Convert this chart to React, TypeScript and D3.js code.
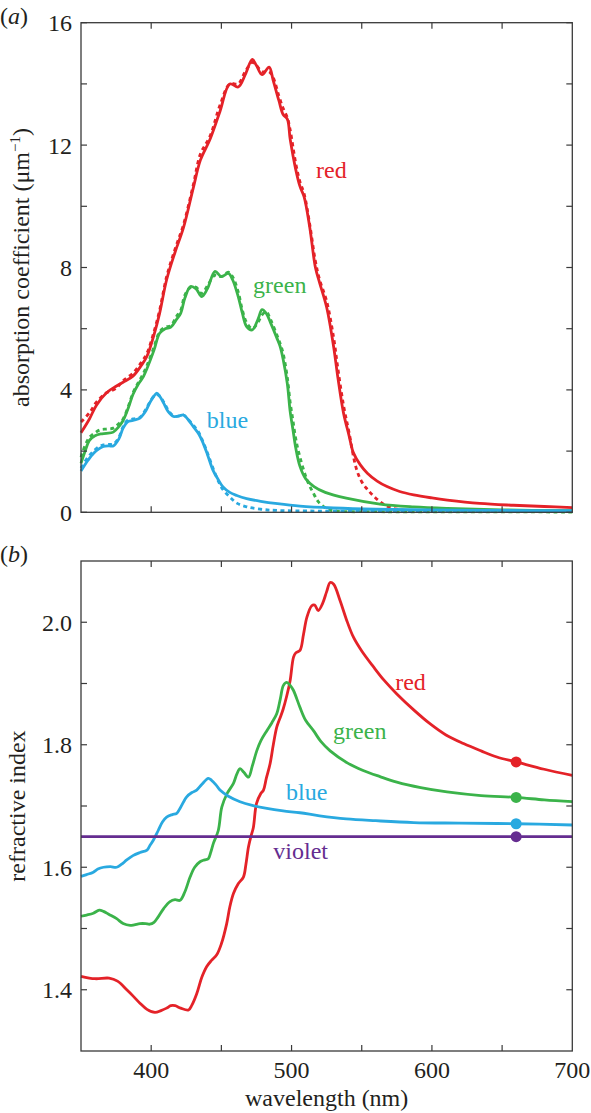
import React from 'react';
import * as d3 from 'd3';

type P = [number, number];

// ---------- axes ----------
const wavelengthDomain: [number, number] = [350, 700];
const xTicks = [400, 450, 500, 550, 600, 650];
const xTickLabels = [400, 500, 600, 700];
const absDomain: [number, number] = [0, 16];
const absTicks = [0, 2, 4, 6, 8, 10, 12, 14, 16];
const absTickLabels = [0, 4, 8, 12, 16];
const riDomain: [number, number] = [1.3, 2.1];
const riTicks = [1.4, 1.5, 1.6, 1.7, 1.8, 1.9, 2.0];
const riTickLabels = [1.4, 1.6, 1.8, 2.0];

// ---------- panel (a): absorption coefficient ----------
const redAbsSolid: P[] = [
  [350, 2.6], [356, 3.05], [361, 3.5], [368, 3.9], [375, 4.12], [380, 4.25], [387, 4.45], [393, 4.8],
  [397, 5.1], [402, 5.8], [406, 6.5], [411, 7.6], [417, 8.5], [423, 9.3], [430, 10.6], [435, 11.5],
  [442, 12.2], [449, 13.1], [456, 14.0], [462, 13.9], [467, 14.3], [472, 14.8], [475, 14.6],
  [479, 14.3], [484, 14.55], [487, 14.1], [491, 13.45], [494, 13.0], [497, 12.85], [499, 12.2],
  [503, 11.2], [506, 10.65], [509, 10.3], [513, 9.3], [517, 8.0], [520, 7.5], [525, 6.7], [530, 5.4],
  [533, 4.4], [537, 3.25], [541, 2.5], [544, 1.95], [549, 1.55], [554, 1.28], [561, 1.02], [568, 0.84],
  [577, 0.68], [587, 0.57], [600, 0.47], [611, 0.4], [634, 0.29], [658, 0.23], [680, 0.19], [700, 0.15],
];
const redAbsDashed: P[] = [
  [350, 2.95], [356, 3.25], [361, 3.6], [368, 3.9], [375, 4.05], [380, 4.3], [387, 4.55], [393, 4.9],
  [397, 5.2], [402, 5.9], [406, 6.6], [411, 7.7], [417, 8.6], [423, 9.4], [430, 10.7], [435, 11.7],
  [442, 12.3], [449, 13.3], [456, 14.0], [462, 14.0], [467, 14.4], [472, 14.7], [475, 14.6],
  [479, 14.4], [484, 14.4], [487, 14.2], [491, 13.6], [494, 13.2], [497, 12.9], [499, 12.5],
  [503, 11.4], [506, 10.8], [509, 10.4], [513, 9.4], [517, 8.2], [520, 7.6], [525, 6.9], [530, 5.7],
  [533, 4.7], [537, 3.5], [541, 2.6], [546, 1.45], [550, 1.0], [554, 0.75], [558, 0.55], [563, 0.35],
  [569, 0.18], [575, 0.1], [585, 0.05], [600, 0.04], [650, 0.03], [700, 0.02],
];
const greenAbsSolid: P[] = [
  [350, 1.6], [353, 2.0], [356, 2.35], [360, 2.5], [364, 2.56], [368, 2.58], [373, 2.62], [377, 2.8],
  [380, 3.0], [384, 3.45], [387, 3.85], [391, 4.2], [394, 4.4], [397, 4.7], [402, 5.3], [406, 5.85],
  [410, 6.0], [414, 6.05], [418, 6.3], [421, 6.5], [424, 7.0], [428, 7.38], [432, 7.3], [436, 7.05],
  [440, 7.3], [445.5, 7.87], [450, 7.7], [455, 7.81], [458, 7.6], [462, 7.05], [465, 6.5], [468, 6.07],
  [472, 5.96], [476, 6.3], [479, 6.62], [482, 6.5], [485, 6.2], [489.5, 5.7], [492, 5.4], [494, 5.0],
  [497, 4.2], [499, 3.3], [501, 2.7], [503, 2.1], [506, 1.5], [510, 1.1], [516, 0.84], [524, 0.65],
  [539, 0.46], [563, 0.27], [587, 0.18], [611, 0.13], [650, 0.08], [700, 0.05],
];
const greenAbsDashed: P[] = [
  [350, 1.8], [353, 2.2], [356, 2.45], [360, 2.6], [364, 2.7], [368, 2.72], [373, 2.75], [377, 2.9],
  [380, 3.05], [384, 3.5], [387, 3.9], [391, 4.25], [394, 4.5], [397, 4.8], [402, 5.4], [406, 5.9],
  [410, 6.05], [414, 6.1], [418, 6.4], [421, 6.6], [424, 7.1], [428, 7.35], [432, 7.35], [436, 7.15],
  [440, 7.4], [445.5, 7.75], [450, 7.7], [455, 7.85], [458, 7.7], [462, 7.2], [465, 6.6], [468, 6.2],
  [472, 6.0], [476, 6.2], [479, 6.45], [482, 6.55], [485, 6.3], [489.5, 5.8], [492, 5.5], [494, 5.2],
  [497, 4.4], [499, 3.6], [501, 3.0], [503, 2.4], [506, 1.8], [511, 1.06], [515.6, 0.62], [519, 0.35],
  [523, 0.18], [527, 0.08], [535, 0.03], [560, 0.02], [700, 0.01],
];
const blueAbsSolid: P[] = [
  [350, 1.35], [355, 1.7], [359, 1.93], [363, 2.08], [366, 2.15], [370, 2.17], [373, 2.17], [377, 2.4],
  [380, 2.75], [383, 2.95], [387, 3.0], [392, 3.08], [396, 3.3], [399, 3.58], [402, 3.8], [404, 3.89],
  [406, 3.8], [409, 3.56], [412, 3.3], [416, 3.13], [420, 3.15], [423, 3.18], [426, 3.05], [430, 2.8],
  [434, 2.55], [437, 2.26], [440, 1.9], [444, 1.38], [448, 1.05], [451, 0.84], [456, 0.65], [461, 0.55],
  [468, 0.45], [478, 0.36], [490, 0.28], [506, 0.2], [530, 0.14], [560, 0.1], [600, 0.08], [650, 0.06],
  [700, 0.05],
];
const blueAbsDashed: P[] = [
  [350, 1.45], [355, 1.8], [359, 2.0], [363, 2.15], [366, 2.2], [370, 2.22], [373, 2.22], [377, 2.45],
  [380, 2.8], [383, 3.0], [387, 3.05], [392, 3.1], [396, 3.35], [399, 3.6], [402, 3.8], [404, 3.85],
  [406, 3.8], [409, 3.6], [412, 3.35], [416, 3.15], [420, 3.15], [423, 3.18], [426, 3.05], [430, 2.85],
  [434, 2.6], [437, 2.3], [440, 1.95], [444, 1.45], [448, 1.0], [451, 0.75], [456, 0.5], [461, 0.3],
  [468, 0.18], [478, 0.1], [490, 0.06], [520, 0.04], [600, 0.03], [700, 0.02],
];

// ---------- panel (b): refractive index ----------
const redIndex: P[] = [
  [350, 1.422], [360, 1.418], [370, 1.419], [376, 1.414], [382.6, 1.4],
  [387, 1.39], [392, 1.378], [397, 1.368], [402.7, 1.363], [407, 1.366], [411, 1.37], [414, 1.374],
  [417, 1.374], [421, 1.37], [426.6, 1.367], [429, 1.375], [432.5, 1.394], [436, 1.42], [439.6, 1.438],
  [443, 1.448], [446.7, 1.457], [450, 1.475], [453.8, 1.508], [456, 1.535], [458.6, 1.557], [462, 1.573],
  [465.7, 1.584], [467.5, 1.605], [469.3, 1.633], [471, 1.65], [472.8, 1.665], [475, 1.704], [478, 1.72],
  [480, 1.726], [482, 1.745], [484.7, 1.769], [487, 1.8], [489.5, 1.829], [492, 1.845], [494, 1.858],
  [496.6, 1.88], [499, 1.905], [501.4, 1.943], [503, 1.95], [506, 1.954], [508.5, 1.98], [510.9, 2.008],
  [514.4, 2.027], [516.5, 2.028], [519, 2.019], [522, 2.03], [525, 2.05], [527.5, 2.065], [530, 2.062],
  [534.6, 2.035], [539, 2.005], [544, 1.976], [550, 1.953], [558.4, 1.927], [566, 1.905], [575, 1.883],
  [587, 1.857], [598.8, 1.834], [610, 1.816], [622.5, 1.802], [635, 1.79], [646.3, 1.78], [660, 1.772],
  [680, 1.76], [700, 1.75],
];
const greenIndex: P[] = [
  [350, 1.52], [354, 1.522], [358.8, 1.525], [363, 1.53], [366, 1.528], [370, 1.523], [375.4, 1.516],
  [380, 1.508], [385, 1.505], [388, 1.506], [392, 1.508], [396, 1.508], [399, 1.507], [402, 1.51],
  [405, 1.519], [409, 1.533], [413.4, 1.544], [417, 1.547], [420.6, 1.546], [424, 1.56], [427.7, 1.584],
  [431, 1.6], [434.8, 1.609], [438, 1.612], [440.7, 1.614], [442.5, 1.625], [444.3, 1.639], [447.8, 1.66],
  [450.3, 1.698], [454, 1.72], [458.6, 1.737], [461, 1.752], [463.3, 1.761], [466, 1.755], [469.3, 1.747],
  [472, 1.765], [475.2, 1.79], [478, 1.806], [482.4, 1.823], [486, 1.836], [489.5, 1.851], [492, 1.875],
  [494.2, 1.897], [496.6, 1.902], [499, 1.897], [501.3, 1.889], [506, 1.861], [510, 1.84], [515.6, 1.823],
  [521, 1.805], [527.5, 1.79], [540, 1.77], [551, 1.758], [563, 1.748], [575, 1.739], [592, 1.73],
  [610.7, 1.723], [635, 1.717], [660, 1.714], [680, 1.71], [700, 1.707],
];
const blueIndex: P[] = [
  [350, 1.585], [354, 1.588], [358.8, 1.592], [362, 1.597], [366, 1.6], [371, 1.601], [375.4, 1.6],
  [379, 1.605], [382.6, 1.612], [387, 1.619], [392, 1.624], [397, 1.628], [399, 1.635], [401.5, 1.644],
  [405, 1.66], [408, 1.674], [411, 1.682], [415, 1.686], [418.2, 1.688], [421, 1.698], [425.3, 1.715],
  [429, 1.722], [432.4, 1.726], [436, 1.735], [440.7, 1.745], [443, 1.742], [446, 1.735], [449, 1.726],
  [455, 1.716], [463.3, 1.707], [472, 1.701], [482.4, 1.696], [494, 1.692], [506, 1.689], [520, 1.684],
  [539, 1.679], [560, 1.676], [587, 1.673], [620, 1.672], [660, 1.671], [700, 1.669],
];
const violetIndex: P[] = [[350, 1.65], [700, 1.65]];

const markerWavelength = 660;
const markerValues = [1.772, 1.714, 1.671, 1.65]; // red, green, blue, violet

// series labels (text, anchor wavelength, anchor value)
const absLabelText = ['red', 'green', 'blue'];
const absLabelAt: P[] = [[517.5, 10.93], [472.6, 7.17], [439.6, 2.76]];
const riLabelText = ['red', 'green', 'blue', 'violet'];
const riLabelAt: P[] = [[573.8, 1.89], [529.6, 1.81], [496.1, 1.709], [487, 1.613]];

const COLORS = { red: '#e42228', green: '#3bb34a', blue: '#29a9e0', violet: '#652d90' };
const FONT = "'Liberation Serif', Tinos, 'Times New Roman', Times, serif";
const AXIS = '#3a3a3a';
const TEXT = '#231f20';

const W = 591, H = 1113;
const left = 81, right = 572.3;
const panelA = { top: 22.7, bottom: 512.3 };
const panelB = { top: 561, bottom: 1051 };
const tickLen = 6;
const LW = 2.8;

export default function App() {
  const x = d3.scaleLinear().domain(wavelengthDomain).range([left, right]);
  const yA = d3.scaleLinear().domain(absDomain).range([panelA.bottom, panelA.top]);
  const yB = d3.scaleLinear().domain(riDomain).range([panelB.bottom, panelB.top]);
  const lineA = d3.line<P>().x(d => x(d[0])).y(d => yA(d[1])).curve(d3.curveCatmullRom.alpha(0.5));
  const lineB = d3.line<P>().x(d => x(d[0])).y(d => yB(d[1])).curve(d3.curveCatmullRom.alpha(0.5));

  const absSeries = [
    { solid: redAbsSolid, dashed: redAbsDashed, color: COLORS.red },
    { solid: greenAbsSolid, dashed: greenAbsDashed, color: COLORS.green },
    { solid: blueAbsSolid, dashed: blueAbsDashed, color: COLORS.blue },
  ];
  const riSeries = [
    { data: redIndex, color: COLORS.red },
    { data: greenIndex, color: COLORS.green },
    { data: blueIndex, color: COLORS.blue },
    { data: violetIndex, color: COLORS.violet },
  ];
  const absLabelColors = [COLORS.red, COLORS.green, COLORS.blue];
  const riLabelColors = [COLORS.red, COLORS.green, COLORS.blue, COLORS.violet];
  const ts: React.CSSProperties = { fontFamily: FONT };

  const frame = (y: d3.ScaleLinear<number, number>, yt: number[], top: number, bottom: number, key: string) => (
    <g key={key}>
      <rect x={left} y={top} width={right - left} height={bottom - top} fill="none" stroke={AXIS} strokeWidth={1.3} />
      {xTicks.map(t => (
        <g key={'xt' + t}>
          <line x1={x(t)} x2={x(t)} y1={bottom} y2={bottom - tickLen} stroke={AXIS} strokeWidth={1.2} />
          <line x1={x(t)} x2={x(t)} y1={top} y2={top + tickLen} stroke={AXIS} strokeWidth={1.2} />
        </g>
      ))}
      {yt.map(t => (
        <g key={'yt' + t}>
          <line x1={left} x2={left + tickLen} y1={y(t)} y2={y(t)} stroke={AXIS} strokeWidth={1.2} />
          <line x1={right} x2={right - tickLen} y1={y(t)} y2={y(t)} stroke={AXIS} strokeWidth={1.2} />
        </g>
      ))}
    </g>
  );

  return (
    <svg width={W} height={H} style={{ position: 'absolute', left: 0, top: 0, background: '#fff', fontFamily: FONT }}>
      <rect x={0} y={0} width={W} height={H} fill="#fff" />
      {/* panel (a) */}
      <text x={0} y={23.5} fontSize={24} fill={TEXT} style={ts}>(<tspan fontStyle="italic">a</tspan>)</text>
      {absSeries.map((s, i) => (
        <path key={'ad' + i} d={lineA(s.dashed) || ''} fill="none" stroke={s.color} strokeWidth={LW} strokeDasharray="4,3.5" />
      ))}
      {absSeries.map((s, i) => (
        <path key={'as' + i} d={lineA(s.solid) || ''} fill="none" stroke={s.color} strokeWidth={LW} />
      ))}
      {frame(yA, absTicks, panelA.top, panelA.bottom, 'fa')}
      {absTickLabels.map(t => (
        <text key={'al' + t} x={left - 9} y={yA(t)} dy="0.35em" textAnchor="end" fontSize={24} fill={TEXT} style={ts}>{t}</text>
      ))}
      {absLabelText.map((t, i) => (
        <text key={'alb' + i} x={x(absLabelAt[i][0])} y={yA(absLabelAt[i][1])} fontSize={24} fill={absLabelColors[i]} style={ts}>{t}</text>
      ))}
      <text transform={`translate(29,${(panelA.top + panelA.bottom) / 2}) rotate(-90)`} textAnchor="middle" fontSize={24} fill={TEXT} style={ts}>
        absorption coefficient (μm<tspan fontSize={15} dy={-9}>−1</tspan><tspan dy={9}>)</tspan>
      </text>

      {/* panel (b) */}
      <text x={0} y={562} fontSize={24} fill={TEXT} style={ts}>(<tspan fontStyle="italic">b</tspan>)</text>
      {riSeries.map((s, i) => (
        <path key={'rs' + i} d={lineB(s.data) || ''} fill="none" stroke={s.color} strokeWidth={LW} />
      ))}
      {riSeries.map((s, i) => (
        <circle key={'rm' + i} cx={x(markerWavelength)} cy={yB(markerValues[i])} r={5.5} fill={s.color} />
      ))}
      {frame(yB, riTicks, panelB.top, panelB.bottom, 'fb')}
      {riTickLabels.map(t => (
        <text key={'rl' + t} x={left - 9} y={yB(t)} dy="0.35em" textAnchor="end" fontSize={24} fill={TEXT} style={ts}>{t.toFixed(1)}</text>
      ))}
      {xTickLabels.map(t => (
        <text key={'xl' + t} x={x(t)} y={1078} textAnchor="middle" fontSize={24} fill={TEXT} style={ts}>{t}</text>
      ))}
      <text x={(left + right) / 2} y={1106} textAnchor="middle" fontSize={24} fill={TEXT} style={ts}>wavelength (nm)</text>
      {riLabelText.map((t, i) => (
        <text key={'rlb' + i} x={x(riLabelAt[i][0])} y={yB(riLabelAt[i][1])} fontSize={24} fill={riLabelColors[i]} style={ts}>{t}</text>
      ))}
      <text transform={`translate(25,${(panelB.top + panelB.bottom) / 2}) rotate(-90)`} textAnchor="middle" fontSize={24} fill={TEXT} style={ts}>
        refractive index
      </text>
    </svg>
  );
}
